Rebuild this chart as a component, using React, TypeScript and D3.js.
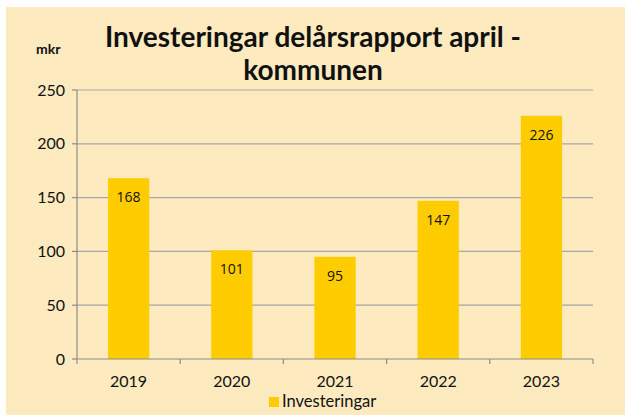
import React from 'react'
import { scaleBand, scaleLinear } from 'd3'

const years = ['2019', '2020', '2021', '2022', '2023']
const values = [168, 101, 95, 147, 226]
const yTicks = [0, 50, 100, 150, 200, 250]
const seriesName = 'Investeringar'
const unit = 'mkr'
const titleLines = ['Investeringar delårsrapport april -', 'kommunen']

const width = 625
const height = 416
const margin = { top: 90, right: 32, bottom: 57, left: 77 }
const innerWidth = width - margin.left - margin.right
const innerHeight = height - margin.top - margin.bottom
const font = 'Lato, "DejaVu Sans", sans-serif'

export default function App() {
  const xScale = scaleBand().domain(years).range([0, innerWidth]).paddingInner(0.6).paddingOuter(0.3)
  const yScale = scaleLinear().domain([0, 250]).range([innerHeight, 0])
  const band = innerWidth / years.length

  return (
    <svg width={width} height={height} style={{ position: 'absolute', left: 0, top: 0 }}>
      <rect x={6} y={7} width={width - 6} height={height - 8} fill="#FDEABF" />
      <text x={36} y={54} fontFamily={font} fontWeight="bold" fontSize={14} fill="#111">{unit}</text>
      {titleLines.map((t, i) => (
        <text key={t} x={313} y={47 + i * 33} textAnchor="middle" fontFamily={font} fontWeight="bold" fontSize={28} fill="#111">{t}</text>
      ))}
      <g transform={`translate(${margin.left},${margin.top})`}>
        {yTicks.map(t => (
          <g key={t} transform={`translate(0,${yScale(t)})`}>
            {t > 0 && <line x1={0} x2={innerWidth} stroke="#A6A6A6" strokeWidth={1.2} />}
            <line x1={-5} x2={0} stroke="#8C8C8C" strokeWidth={1.2} />
            <text x={-12} dy="0.35em" textAnchor="end" fontFamily={font} fontSize={16} fill="#111">{t}</text>
          </g>
        ))}
        {years.map((y, i) => (
          <line key={y} x1={band * (i + 1)} x2={band * (i + 1)} y1={innerHeight} y2={innerHeight + 5} stroke="#8C8C8C" strokeWidth={1.2} />
        ))}
        <line x1={0} x2={0} y1={innerHeight + 5} y2={0} stroke="#8C8C8C" strokeWidth={1.2} />
        {years.map((y, i) => (
          <g key={y}>
            <rect x={xScale(y)} y={yScale(values[i])} width={xScale.bandwidth()} height={innerHeight - yScale(values[i])} fill="#FFCC00" />
            <text x={(xScale(y) ?? 0) + xScale.bandwidth() / 2} y={yScale(values[i]) + 24} textAnchor="middle" fontFamily='"Open Sans", sans-serif' fontSize={14} fill="#111">{values[i]}</text>
            <text x={(xScale(y) ?? 0) + xScale.bandwidth() / 2} y={innerHeight + 28} textAnchor="middle" fontFamily={font} fontSize={16} fill="#111">{y}</text>
          </g>
        ))}
        <line x1={0} x2={innerWidth} y1={innerHeight} y2={innerHeight} stroke="#8C8C8C" strokeWidth={1.2} />
      </g>
      <rect x={269} y={397} width={10} height={10} fill="#FFCC00" />
      <text x={282} y={407} fontFamily={font} fontSize={16.5} fill="#111">{seriesName}</text>
    </svg>
  )
}
